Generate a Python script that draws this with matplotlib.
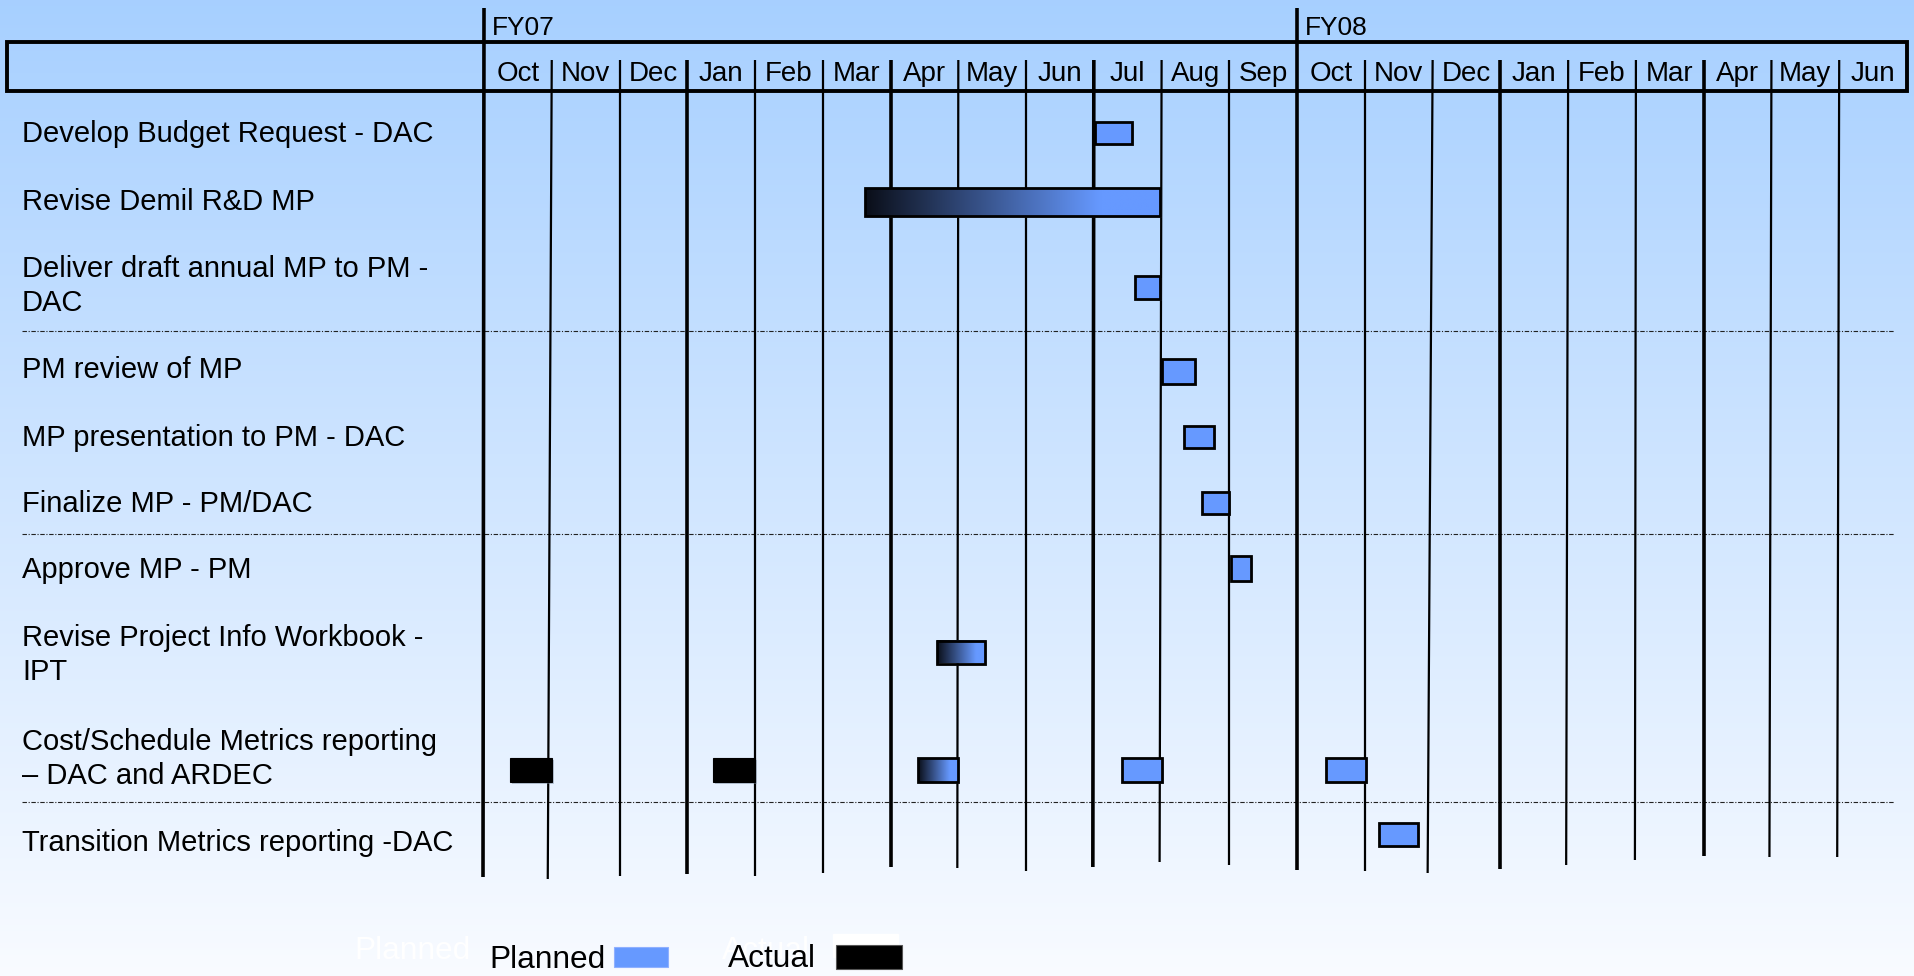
import numpy as np
import matplotlib
matplotlib.use("Agg")
import matplotlib.pyplot as plt
from matplotlib.patches import Rectangle

plt.rcParams['font.family'] = ['Liberation Sans', 'DejaVu Sans']

# schedule: FY07 Oct .. FY08 Jun, month index 0 = Oct 2006
months = ['Oct', 'Nov', 'Dec', 'Jan', 'Feb', 'Mar', 'Apr', 'May', 'Jun',
          'Jul', 'Aug', 'Sep', 'Oct', 'Nov', 'Dec', 'Jan', 'Feb', 'Mar',
          'Apr', 'May', 'Jun']
fiscal_years = ['FY07', 'FY08']
fy_start = [0, 12]

tasks = ['Develop Budget Request - DAC',
         'Revise Demil R&D MP',
         'Deliver draft annual MP to PM -\nDAC',
         'PM review of MP',
         'MP presentation to PM - DAC',
         'Finalize MP - PM/DAC',
         'Approve MP - PM',
         'Revise Project Info Workbook -\nIPT',
         'Cost/Schedule Metrics reporting\n\u2013 DAC and ARDEC',
         'Transition Metrics reporting -DAC']

# bars: task row, start / end (months), kind
bar_task = [0, 1, 2, 3, 4, 5, 6, 7, 8, 8, 8, 8, 8, 9]
bar_start = [9.02, 5.62, 9.61, 10.01, 10.33, 10.60, 11.03, 6.69,
             0.38, 3.375, 6.40, 9.41, 12.43, 13.21]
bar_end = [9.57, 9.97, 9.97, 10.49, 10.77, 11.00, 11.32, 7.40,
           1.00, 4.00, 6.99, 10.01, 13.02, 13.79]
bar_kind = ['planned', 'progress', 'planned', 'planned', 'planned',
            'planned', 'planned', 'progress', 'actual', 'actual',
            'progress', 'planned', 'planned', 'planned']

# page layout (pixels from top)
W, H = 1915, 976
x0_px, month_px = 484, 67.76
label_y = [134.5, 202.5, 286, 370.5, 438, 504, 570.5, 655, 759, 843]
bar_y = [132.5, 201.7, 287, 371, 437, 503, 568.5, 652, 770, 834]
bar_h = [22, 28, 23, 25, 22, 22, 25, 23, 24, 23]
sep_y = [331, 534, 802]
line_bottom = [877, 879, 876, 874, 876, 873, 867, 868, 871, 867, 862,
               865, 870, 871, 873, 869, 865, 860, 856, 857, 857]
line_lean = [-1, -4, 0, 0, 0, 0, 0, -1, 0, -1, -2, 0, 0, 0, -5, 0, -2,
             -1, 0, -2, -2]

BLUE = '#6699FF'
DARK = '#0a0e18'

fig = plt.figure(figsize=(W / 100, H / 100), dpi=100)

# pixel-space layer for background, header and labels
bg = fig.add_axes([0, 0, 1, 1])
bg.set_xlim(0, W)
bg.set_ylim(H, 0)
bg.axis('off')

top = np.array([0.655, 0.815, 1.0])
bot = np.array([0.975, 0.985, 1.0])
t = np.linspace(0, 1, 256)[:, None, None]
grad = top + (bot - top) * t
bg.imshow(np.repeat(grad, 2, axis=1), extent=[0, W, H, 0], aspect='auto',
          zorder=0, interpolation='bilinear')

# header frame
bg.add_patch(Rectangle((7, 42), 1900, 49, fill=False, ec='black', lw=2.8,
                       zorder=3))

for lbl, y in zip(tasks, label_y):
    bg.text(22, y, lbl, fontsize=21, va='center', ha='left',
            linespacing=1.25, zorder=4)

for y in sep_y:
    bg.plot([22, 1894], [y, y], color='#222222', lw=0.8,
            ls=(0, (4, 1.5, 1, 1.5)), zorder=2)

# legend
bg.text(354, 951, 'Planned', fontsize=22.8, color='white', va='center',
        zorder=2)
bg.text(722, 951, 'Actual', fontsize=22.8, color='white', va='center',
        zorder=2)
bg.add_patch(Rectangle((833, 934), 65, 23, color='white', zorder=2))
bg.text(489, 960, 'Planned', fontsize=22.8, va='center', zorder=4)
bg.add_patch(Rectangle((614, 947), 54, 20, fc=BLUE, ec='#8fb0ff', lw=0.8,
                       zorder=4))
bg.text(728, 959, 'Actual', fontsize=22.8, va='center', zorder=4)
bg.add_patch(Rectangle((836, 945), 66, 24, fc='black', ec='#555555',
                       lw=0.8, zorder=4))

# month-space layer for the grid and bars
ax = fig.add_axes([0, 0, 1, 1])
ax.patch.set_visible(False)
ax.axis('off')
ax.set_xlim(-x0_px / month_px, (W - x0_px) / month_px)
ax.set_ylim(H, 0)
ax.set_autoscale_on(False)

px = 1 / month_px
for b in range(len(months)):
    thick = b % 3 == 0
    y_top = 8 if b in fy_start else 60
    ax.plot([b, b + line_lean[b] * px], [y_top, line_bottom[b]],
            color='black', lw=2.6 if thick else 1.6,
            solid_capstyle='butt', zorder=3)

for i, m in enumerate(months):
    ax.text(i + 0.5, 74, m, fontsize=20, ha='center', va='center',
            zorder=4)
for fy, s in zip(fiscal_years, fy_start):
    ax.text(s + 8 * px, 28, fy, fontsize=19, ha='left', va='center',
            zorder=4)

ramp = np.clip(np.linspace(0, 1, 200) / 0.8, 0, 1)
dark = np.array(matplotlib.colors.to_rgb(DARK))
blue = np.array(matplotlib.colors.to_rgb(BLUE))
progress_img = (dark + (blue - dark) * ramp[:, None])[None, :, :]

for row, s, e, kind in zip(bar_task, bar_start, bar_end, bar_kind):
    yc, h = bar_y[row], bar_h[row]
    # soft drop shadow
    ax.add_patch(Rectangle((s + 2 * px, yc - h / 2 + 2), e - s, h,
                           fc='#7f8fa6', ec='none', alpha=0.45, zorder=4))
    if kind == 'actual':
        ax.add_patch(Rectangle((s, yc - h / 2), e - s, h, fc='black',
                               ec='black', lw=0.8, zorder=5))
        continue
    if kind == 'progress':
        ax.imshow(progress_img, extent=[s, e, yc + h / 2, yc - h / 2],
                  aspect='auto', interpolation='bilinear', zorder=5)
        fc = 'none'
    else:
        fc = BLUE
    ax.add_patch(Rectangle((s, yc - h / 2), e - s, h, fc=fc, ec='black',
                           lw=2.0, zorder=6))

ax.set_xlim(-x0_px / month_px, (W - x0_px) / month_px)
ax.set_ylim(H, 0)

fig.savefig('out.png', dpi=100)
